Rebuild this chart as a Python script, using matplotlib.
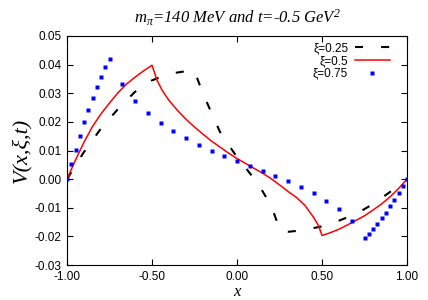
import matplotlib
matplotlib.use("Agg")
import matplotlib.pyplot as plt

plt.rcParams['mathtext.fontset'] = 'custom'
plt.rcParams['mathtext.it'] = 'Liberation Serif:italic'
plt.rcParams['mathtext.rm'] = 'Liberation Serif:italic'
plt.rcParams['lines.scale_dashes'] = False

# xi = 0.25 (black dashed)
x_025 = [-1.0, -0.9, -0.8, -0.7, -0.6, -0.5, -0.4, -0.3, -0.25, -0.22, -0.18, -0.14,
         -0.1, -0.05, 0.0, 0.05, 0.1, 0.15, 0.2, 0.23, 0.26, 0.3, 0.35, 0.4, 0.5,
         0.6, 0.7, 0.8, 0.9, 1.0]
v_025 = [0.0, 0.0095, 0.0177, 0.0245, 0.0305, 0.0345, 0.0368, 0.0377, 0.0378, 0.0330,
         0.0272, 0.0218, 0.0165, 0.0120, 0.0077, 0.0040, 0.0002, -0.0042, -0.0092,
         -0.0140, -0.0182, -0.0184, -0.0181, -0.0177, -0.0165, -0.0145, -0.0122,
         -0.0087, -0.0045, 0.0]

# xi = 0.5 (red solid)
x_05 = [-1.0, -0.95, -0.9, -0.85, -0.8, -0.75, -0.7, -0.65, -0.6, -0.55, -0.5,
        -0.47, -0.44, -0.4, -0.35, -0.3, -0.25, -0.2, -0.15, -0.1, -0.05, 0.0, 0.05,
        0.1, 0.15, 0.2, 0.25, 0.3, 0.35, 0.4, 0.45, 0.48, 0.5, 0.55, 0.6, 0.65, 0.7,
        0.75, 0.8, 0.85, 0.9, 0.95, 1.0]
v_05 = [0.0, 0.0067, 0.0129, 0.0184, 0.0228, 0.0266, 0.0302, 0.0332, 0.0356, 0.0378,
        0.0398, 0.0345, 0.0310, 0.0275, 0.0240, 0.0209, 0.0182, 0.0157, 0.0133,
        0.0112, 0.0091, 0.0072, 0.0055, 0.0038, 0.0021, 0.0002, -0.0020, -0.0043,
        -0.0064, -0.0092, -0.0133, -0.0163, -0.0197, -0.0187, -0.0175, -0.0160,
        -0.0144, -0.0128, -0.0108, -0.0087, -0.0062, -0.0033, 0.0]

# xi = 0.75 (blue squares)
x_075 = [-1.0, -0.975, -0.95, -0.925, -0.9, -0.875, -0.85, -0.825, -0.8, -0.775, -0.75,
         -0.675, -0.6, -0.525, -0.45, -0.375, -0.3, -0.225, -0.15, -0.075, 0.0,
         0.075, 0.15, 0.225, 0.3, 0.375, 0.45, 0.525, 0.6, 0.675, 0.75,
         0.775, 0.8, 0.825, 0.85, 0.875, 0.9, 0.925, 0.95, 0.975, 1.0]
v_075 = [0.0, 0.0052, 0.0102, 0.0151, 0.0198, 0.0241, 0.0284, 0.0323, 0.0358, 0.0391,
         0.0420, 0.0332, 0.0274, 0.0231, 0.0196, 0.0168, 0.0142, 0.0120, 0.0100,
         0.0082, 0.0064, 0.0047, 0.0029, 0.0012, -0.0006, -0.0027, -0.0050, -0.0076,
         -0.0106, -0.0148, -0.0206, -0.0191, -0.0175, -0.0156, -0.0137, -0.0118,
         -0.0094, -0.0072, -0.0048, -0.0023, 0.0]

labels = ['\u03be=0.25', '\u03be=0.5', '\u03be=0.75']
xticks = [-1.0, -0.5, 0.0, 0.5, 1.0]
yticks = [-0.03, -0.02, -0.01, 0.0, 0.01, 0.02, 0.03, 0.04, 0.05]

fig = plt.figure(figsize=(4.28, 3.0), dpi=100)
ax = fig.add_axes([67/428, 1 - 265/300, 340/428, 229/300])

ax.plot(x_025, v_025, color='black', lw=1.5, dashes=(5.8, 13.0), label=labels[0])
ax.plot(x_05, v_05, color='#ff0000', lw=1.1, label=labels[1])
ax.plot(x_075, v_075, ls='none', marker='s', ms=2.9, color='#0000ff', mec='none',
        label=labels[2])

ax.set_xlim(-1.0, 1.0)
ax.set_ylim(-0.03, 0.05)
ax.set_xticks(xticks)
ax.set_yticks(yticks)
ax.set_xticklabels(['%.2f' % t for t in xticks])
ax.set_yticklabels(['%.2f' % t for t in yticks])
ax.tick_params(direction='in', top=True, right=True, length=4, width=0.8,
               labelsize=8.5, pad=4)
for lab in ax.get_xticklabels() + ax.get_yticklabels():
    lab.set_family('Liberation Sans')
for s in ax.spines.values():
    s.set_linewidth(0.8)

ax.set_xlabel('x', fontsize=12, family='Liberation Serif', style='italic', labelpad=1)
ax.set_ylabel('V(x,\u03be,t)', fontsize=16, family='Liberation Serif', style='italic',
              labelpad=2)
ax.set_title(r'$m_\pi$=140 MeV and t=-0.5 GeV$^2$', fontsize=12,
             family='Liberation Serif', style='italic', pad=9)

leg = ax.legend(loc='upper right', frameon=False, markerfirst=False,
                bbox_to_anchor=(1 - 11/340, 1.0),
                prop={'family': 'Liberation Sans', 'size': 8.5},
                handlelength=2.9, handletextpad=0.6, labelspacing=0.05,
                borderaxespad=0.15, numpoints=1)
try:
    for col in leg._legend_handle_box.get_children():
        col.align = 'right'
except Exception:
    pass

fig.savefig('out.png', dpi=100)
